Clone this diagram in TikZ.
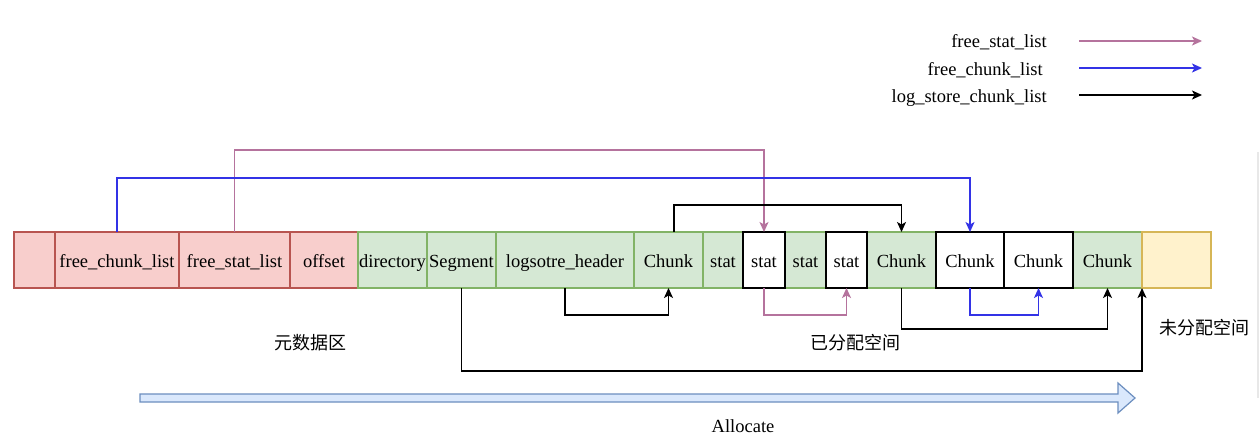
\documentclass[tikz,border=0pt]{standalone}
\usepackage{fontspec}
\setmainfont{Liberation Serif}
\newfontfamily\cjk{Noto Sans CJK SC}
\usetikzlibrary{arrows.meta}
\definecolor{pinkc}{HTML}{B5739D}
\definecolor{bluec}{HTML}{3333E6}
\definecolor{redfill}{HTML}{F8CECC}
\definecolor{redline}{HTML}{B85450}
\definecolor{greenfill}{HTML}{D5E8D4}
\definecolor{greenline}{HTML}{82B366}
\definecolor{yelfill}{HTML}{FFF2CC}
\definecolor{yelline}{HTML}{D6B656}
\definecolor{arrfill}{HTML}{DAE8FC}
\definecolor{arrline}{HTML}{6C8EBF}
\tikzset{
  cell/.style={minimum height=56pt, inner sep=0pt, outer sep=0pt, line width=1.2pt,
    text height=16pt, text depth=2pt,
    font=\fontsize{18.5}{22}\selectfont},
  redbox/.style={cell, draw=redline, fill=redfill},
  greenbox/.style={cell, draw=greenline, fill=greenfill},
  whitebox/.style={cell, draw=black, fill=white},
  yelbox/.style={cell, draw=yelline, fill=yelfill},
  lbl/.style={font=\fontsize{18.5}{22}\selectfont, inner sep=0pt},
  cjklbl/.style={font=\cjk\fontsize{18}{22}\selectfont, inner sep=0pt},
  conn/.style={line width=1.4pt, -{Stealth[length=10pt,width=9pt,inset=2.5pt]}},
  pinkline/.style={conn, draw=pinkc},
  blueline/.style={conn, draw=bluec},
  blackline/.style={conn, draw=black},
}
\begin{document}
\begin{tikzpicture}[x=1pt,y=-1pt]
\useasboundingbox[fill=white] (0,0) rectangle (1260,442);
% faint right edge line
\draw[line width=2pt, black!9] (1258,152) -- (1258,398);

% legend
\node[lbl, anchor=east] (lg1) at (1047,42) {free\_stat\_list};
\node[lbl, anchor=east] (lg2) at (1043,70) {free\_chunk\_list};
\node[lbl, anchor=east] (lg3) at (1047,98) {log\_store\_chunk\_list};
\coordinate (la1) at (1079,41);
\coordinate (lb1) at (1202,41);
\coordinate (la2) at (1079,68);
\coordinate (lb2) at (1202,68);
\coordinate (la3) at (1079,95);
\coordinate (lb3) at (1202,95);
\draw[pinkline] (la1) -- (lb1);
\draw[blueline] (la2) -- (lb2);
\draw[blackline] (la3) -- (lb3);

% cells
\node[redbox, minimum width=41pt] (b0) at (34.5,260) {};
\node[redbox, minimum width=124pt] (fcl) at (117,260) {free\_chunk\_list};
\node[redbox, minimum width=111pt] (fsl) at (234.5,260) {free\_stat\_list};
\node[redbox, minimum width=68pt] (off) at (324,260) {offset};
\node[greenbox, minimum width=69pt] (dir) at (392.5,260) {directory};
\node[greenbox, minimum width=69pt] (seg) at (461.5,260) {Segment};
\node[greenbox, minimum width=138pt] (lh) at (565,260) {logsotre\_header};
\node[greenbox, minimum width=69pt] (c1) at (668.5,260) {Chunk};
\node[greenbox, minimum width=40pt] (s1) at (723,260) {stat};
\node[greenbox, minimum width=41pt] (s3) at (805.5,260) {stat};
\node[greenbox, minimum width=69pt] (c2) at (901.5,260) {Chunk};
\node[greenbox, minimum width=69pt] (c5) at (1107.5,260) {Chunk};
\node[yelbox, minimum width=69pt] (u) at (1176.5,260) {};
\node[whitebox, minimum width=42pt] (s2) at (764,260) {stat};
\node[whitebox, minimum width=41pt] (s4) at (846.5,260) {stat};
\node[whitebox, minimum width=68pt] (c3) at (970,260) {Chunk};
\node[whitebox, minimum width=69pt] (c4) at (1038.5,260) {Chunk};

% top connectors
\draw[pinkline] (fsl.north) -- (fsl.north |- 0,150) -| (s2.north);
\draw[blueline] (fcl.north) -- (fcl.north |- 0,178) -| (c3.north);
\draw[blackline] ([xshift=5.5pt]c1.north) -- ([xshift=5.5pt]c1.north |- 0,205) -| (c2.north);

% bottom connectors
\draw[blackline] (lh.south) -- (lh.south |- 0,315) -| (c1.south);
\draw[pinkline] (s2.south) -- (s2.south |- 0,315) -| (s4.south);
\draw[blueline] (c3.south) -- (c3.south |- 0,315) -| (c4.south);
\draw[blackline] (c2.south) -- (c2.south |- 0,329) -| (c5.south);
\draw[blackline] (seg.south) -- (seg.south |- 0,371) -| (c5.south east);

% region labels
\node[cjklbl] (t1) at (310,343) {元数据区};
\node[cjklbl] (t2) at (855,343) {已分配空间};
\node[cjklbl] (t3) at (1204,328) {未分配空间};

% allocate arrow
\draw[line width=1.2pt, draw=arrline, fill=arrfill, line join=miter]
  (140,394) -- (1118,394) -- (1118,383) -- (1135,398) -- (1118,413) -- (1118,402) -- (140,402) -- cycle;
\node[lbl] (al) at (743,426) {Allocate};
\end{tikzpicture}
\end{document}
